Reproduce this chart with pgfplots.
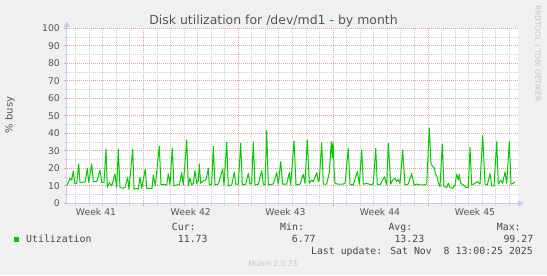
\documentclass[border=0pt]{standalone}
\usepackage{pgfplots}
\pgfplotsset{compat=1.18}
\usepackage{fontspec}
\setmainfont{DejaVu Sans}
\newfontfamily\monofont{DejaVu Sans Mono}
\definecolor{bgc}{HTML}{F0F0F0}
\definecolor{gridred}{HTML}{E6A5A5}
\definecolor{gridgray}{HTML}{CFCFCF}
\definecolor{axisblue}{HTML}{C8C8F4}
\definecolor{linegreen}{HTML}{00CC00}
\definecolor{txt}{HTML}{555555}
\definecolor{faint}{HTML}{C4C4C4}
\begin{document}
\begin{tikzpicture}[x=1bp,y=1bp]
\useasboundingbox (0,0) rectangle (547,275);
\fill[bgc] (0,0) rectangle (547,275);
\begin{axis}[
  at={(66.7bp,71.7bp)}, anchor=south west,
  scale only axis, width=451.3bp, height=175bp,
  xmin=66.7, xmax=518, ymin=0, ymax=100,
  axis background/.style={fill=white},
  axis x line*=bottom, axis y line*=left,
  axis line style={draw=axisblue, line width=0.8bp},
  xtick={143.3,238.15,333.0,427.85}, xticklabels={},
  minor xtick={75.55,89.1,102.65,116.2,129.75,156.85,170.4,183.95,197.5,211.05,224.6,251.7,265.25,278.8,292.35,305.9,319.45,346.55,360.1,373.65,387.2,400.75,414.3,441.4,454.95,468.5,482.05,495.6,509.15},
  ytick={0,10,...,100}, minor ytick={5,15,...,95},
  grid=both,
  major grid style={draw=gridred, line width=0.7bp, dash pattern=on 1bp off 1bp},
  minor grid style={draw=gridgray, line width=0.7bp, dash pattern=on 1bp off 1bp},
  tick align=outside, major tick length=3bp, minor tick length=3bp,
  every major tick/.style={draw=gridred, line width=0.7bp},
  every minor tick/.style={draw=gridgray, line width=0.7bp},
  yticklabel style={font=\fontsize{9.3}{10}\selectfont, text=txt, inner sep=0pt, xshift=-3.7bp},
  /pgf/number format/assume math mode=true,
]
\addplot[linegreen, line width=1bp, line join=round] coordinates {
(66.7,10.1)(68.3,11.8)(70,14.3)(71.7,13.3)(73.3,18.5)(74.7,11.4)(76.7,11.4)(78.7,22.5)(80,11.8)(82.7,12)(85.3,12.4)(87.3,20)(88.7,12)(91.7,22.5)(93.3,12.4)(96.7,12.4)(100,19)(101.7,12)(104,12)(106,31)(107.3,9.1)(109.3,11.8)(111.7,9.9)(115,16.8)(116.7,9.1)(118.3,31)(120,9.1)(122.7,8.6)(125,9)(127.7,14.9)(129,8)(132.7,31)(134,8)(136,8.6)(138.3,8)(140,14.9)(141.7,8.6)(145.3,19.6)(146.7,8.6)(149.3,8.6)(152,8.6)(153.3,16.2)(155.3,9.9)(159.3,32.7)(161,10.5)(163.3,10.9)(166.7,10.5)(168.3,16.8)(170,10.9)(172.3,31.6)(174,9.9)(176.7,10.5)(179.3,10.5)(181.7,17.5)(183.3,10.5)(186.7,36.2)(188.3,9.9)(190,14.3)(191.7,10.5)(193.3,11.4)(195,18.7)(196.7,11.4)(198.3,13)(199.3,22.5)(200.7,11.4)(202.3,12.4)(204,13)(206,13.3)(208.3,20)(209.3,10.5)(211.7,11)(213.3,32.4)(215,10.5)(218.3,11)(222.7,19.6)(224,10.5)(226.7,35)(228.3,9.9)(231.7,10.5)(234.3,17.7)(235.7,10.9)(238.3,10.9)(240.7,34.4)(242.3,10.5)(245.7,10.9)(248.3,17.1)(250,11)(251.7,11.4)(253.3,35)(255,10.5)(258.3,10.9)(261.7,18.7)(263.3,11)(265,10.5)(266.7,41.5)(268.3,10.5)(271.7,10.9)(273.3,11)(276.7,17.5)(278.3,10.9)(280.7,23.8)(282.7,10.9)(286.7,10.9)(289.3,17.5)(290.7,10.5)(294,35.6)(296,10.5)(300,10.9)(303.3,16.6)(305,11.4)(307.3,36.2)(309.3,11.4)(311.7,13.3)(313.3,12.4)(316.7,17.5)(318.3,12.4)(319.3,13.3)(321.7,34.7)(323.3,10.9)(326.7,10.9)(329.3,17.5)(331.3,35.2)(332.3,26)(333.1,35)(334,20)(335,11.4)(338.3,10.9)(342.7,10.9)(345,11.4)(348.3,31.4)(350,10.9)(353.3,10.5)(357.3,18)(359.3,10.9)(361.7,30.5)(363.3,10.9)(366.7,11.4)(371.7,10.5)(373.3,11.4)(375.7,31.4)(377.3,10.9)(380,10.5)(384.3,15.2)(386.7,10.5)(388.3,34.3)(390.7,11)(392.7,13.3)(395,14.3)(396.7,12.4)(398.3,13.7)(400,11.4)(402.7,30.5)(405,10.5)(408.3,11)(411.7,17.1)(414,10.5)(416.7,11)(419.3,10.5)(421.7,10.5)(424,10.5)(426.7,11)(429.3,43)(431,22.9)(432.5,21)(434,20.5)(436,16)(437,15.5)(438.5,11.4)(440,9.5)(442.3,33.9)(444,9.5)(446.7,9.1)(448.3,11.4)(450,9.1)(452.7,8.6)(455,10.5)(456.7,16.6)(458.3,13.3)(459.3,16.6)(460.7,11.4)(463.3,10.5)(466,9.1)(468.3,9.1)(470,32)(471.7,10.5)(475,11.4)(477.3,12.4)(480,11)(482.7,38.7)(485,11)(487.3,10.5)(490,17.1)(491.7,10)(494,10)(496.7,35.2)(498.3,10.9)(500.7,13.3)(502.7,11.4)(505,18)(506.7,11.4)(509.3,35.2)(511,10.9)(513.3,11.4)(515,12.4)
};
\end{axis}
% axis arrows
\draw[axisblue, line width=0.8bp] (66.7,246.7) -- (66.7,249);
\fill[axisblue] (63.7,248) -- (69.7,248) -- (66.7,253.5) -- cycle;
\fill[axisblue] (518,68.7) -- (518,74.7) -- (524,71.7) -- cycle;
% title and labels
\node[anchor=base, font=\fontsize{12.5}{14}\selectfont, text=txt, inner sep=0pt] at (273.5,251) {Disk utilization for /dev/md1 - by month};
\node[rotate=90, font=\fontsize{10}{12}\selectfont, text=txt, inner sep=0pt] at (10,160) {\% busy};
\foreach \xx/\ww in {96/41,190.8/42,285.5/43,380/44,475/45}
  \node[anchor=base, font=\fontsize{9.3}{10}\selectfont, text=txt, inner sep=0pt] at (\xx,59.3) {Week \ww};
\node[rotate=-90, font=\fontsize{7.5}{8}\selectfont, text=faint, inner sep=0pt] at (537.8,221.7) {RRDTOOL / TOBI OETIKER};
\node[anchor=base west, font=\fontsize{7.5}{8}\selectfont, text=faint, inner sep=0pt] at (248.3,8.3) {Munin 2.0.73};
% legend
\fill[linegreen] (14,32.7) rectangle (19.3,38.3);
\begin{scope}[every node/.style={font=\monofont\fontsize{9.9}{11}\selectfont, text=black!72, inner sep=0pt}]
\node[anchor=base west] at (26,32.7) {Utilization};
\node[anchor=base west] at (171.7,44.3) {Cur:};
\node[anchor=base west] at (177.7,32.7) {11.73};
\node[anchor=base west] at (280,44.3) {Min:};
\node[anchor=base west] at (291.7,32.7) {6.77};
\node[anchor=base west] at (388.3,44.3) {Avg:};
\node[anchor=base west] at (394.3,32.7) {13.23};
\node[anchor=base west] at (496.7,44.3) {Max:};
\node[anchor=base west] at (503.3,32.7) {99.27};
\node[anchor=base east] at (533,21) {Last update: Sat Nov\ \ 8 13:00:25 2025};
\end{scope}
\end{tikzpicture}
\end{document}
